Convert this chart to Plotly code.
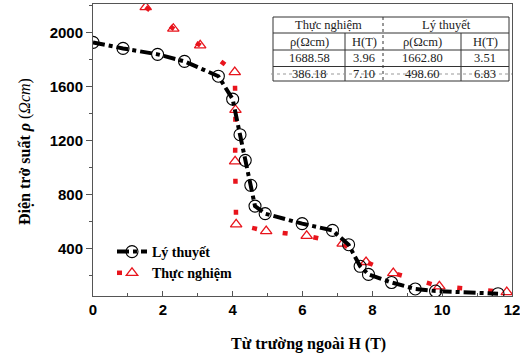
import plotly.graph_objects as go

# ---- data ----
theory_H = [0, 0.86, 1.85, 2.62, 3.59, 4.0, 4.21, 4.36, 4.52, 4.64, 4.93, 5.99, 6.86, 7.32, 7.65, 7.89, 8.55, 9.23, 9.81, 11.6]
theory_rho = [1926, 1881, 1837, 1785, 1675, 1505, 1242, 1052, 867, 713, 657, 583, 533, 427, 267, 207, 147, 99, 84, 64]

exp_H = [1.51, 2.3, 3.07, 4.06, 4.08, 4.07, 4.1, 4.96, 6.12, 7.15, 7.82, 8.6, 9.92, 11.85]
exp_rho = [2187, 2027, 1904, 1706, 1425, 1044, 578, 528, 493, 435, 299, 217, 119, 76]

x_ticks = [0, 2, 4, 6, 8, 10, 12]
y_ticks = [400, 800, 1200, 1600, 2000]

table_groups = ["Thực nghiệm", "Lý thuyết"]
table_cols = ["ρ(Ωcm)", "H(T)", "ρ(Ωcm)", "H(T)"]
table_row1 = ["1688.58", "3.96", "1662.80", "3.51"]
table_row2 = ["386.18", "7.10", "498.60", "6.83"]

# ---- figure ----
W, H = 520, 358
ML, MR, MT, MB = 93, 8, 4, 62
PW, PH = W - ML - MR, H - MT - MB


def px(xp):
    return (xp - ML) / PW


def py(yp):
    return (H - MB - yp) / PH


fig = go.Figure()

fig.add_trace(go.Scatter(
    x=exp_H, y=exp_rho, name="Thực nghiệm", mode="lines+markers",
    line=dict(color="#e8141c", width=4.5, dash="5px,26px"),
    marker=dict(symbol="triangle-up-open", size=10, color="#e8141c", line=dict(width=1.3, color="#e8141c")),
    legendrank=2,
))
fig.add_trace(go.Scatter(
    x=theory_H, y=theory_rho, name="Lý thuyết", mode="lines+markers",
    line=dict(color="black", width=4, dash="dashdot"),
    marker=dict(symbol="circle-open", size=12, color="black", line=dict(width=1.1, color="black")),
    legendrank=1,
))

serif = "Liberation Serif, Times New Roman, serif"
sans = "Liberation Sans, Arial, sans-serif"

shapes = []
annotations = []

# table geometry (pixels)
tx = [273, 345, 383, 461, 509]
ty = [17, 33, 50, 66.5, 81]
lc = "#333"
shapes.append(dict(type="rect", xref="paper", yref="paper", x0=px(tx[0]), x1=px(tx[4]), y0=py(ty[0]), y1=py(ty[4]),
                   line=dict(color=lc, width=1), fillcolor="white", layer="above"))
for yy in ty[1:4]:
    shapes.append(dict(type="line", xref="paper", yref="paper", x0=px(tx[0]), x1=px(tx[4]), y0=py(yy), y1=py(yy),
                       line=dict(color=lc, width=1), layer="above"))
for xx in (tx[1], tx[3]):
    shapes.append(dict(type="line", xref="paper", yref="paper", x0=px(xx), x1=px(xx), y0=py(ty[1]), y1=py(ty[4]),
                       line=dict(color=lc, width=1), layer="above"))
shapes.append(dict(type="line", xref="paper", yref="paper", x0=px(tx[2]), x1=px(tx[2]), y0=py(ty[0]), y1=py(ty[4]),
                   line=dict(color=lc, width=1, dash="dot"), layer="above"))
shapes.append(dict(type="line", xref="paper", yref="paper", x0=px(tx[0] - 2), x1=px(tx[4] + 3), y0=py(74), y1=py(74),
                   line=dict(color="#999", width=1, dash="dot"), layer="above"))

tfont = dict(family=serif, size=12.5, color="#222")
for i, g in enumerate(table_groups):
    annotations.append(dict(xref="paper", yref="paper", x=px((tx[2 * i] + tx[2 * i + 2]) / 2), y=py((ty[0] + ty[1]) / 2),
                            text=g, showarrow=False, font=tfont, xanchor="center", yanchor="middle"))
for j in range(4):
    cx = px((tx[j] + tx[j + 1]) / 2)
    for r, row in enumerate([table_cols, table_row1, table_row2]):
        annotations.append(dict(xref="paper", yref="paper", x=cx, y=py((ty[r + 1] + ty[r + 2]) / 2),
                                text=row[j], showarrow=False, font=tfont, xanchor="center", yanchor="middle"))

annotations.append(dict(xref="paper", yref="paper", x=px(25), y=py(152), textangle=-90,
                        text="<b>Điện trở suất <i>ρ</i></b> (<i>Ωcm</i>)", showarrow=False,
                        font=dict(family=serif, size=16, color="black"), xanchor="center", yanchor="middle"))
annotations.append(dict(xref="paper", yref="paper", x=px(308), y=py(344),
                        text="<b>Từ trường ngoài H (T)</b>", showarrow=False,
                        font=dict(family=serif, size=16, color="black"), xanchor="center", yanchor="middle"))

fig.update_layout(
    width=W, height=H,
    margin=dict(l=ML, r=MR, t=MT, b=MB),
    paper_bgcolor="white", plot_bgcolor="white",
    showlegend=True,
    legend=dict(x=px(112), y=py(236), xanchor="left", yanchor="top", bgcolor="rgba(0,0,0,0)",
                font=dict(family=serif, size=14, color="black", weight="bold"),
                itemwidth=30, tracegroupgap=0),
    shapes=shapes,
    annotations=annotations,
)
fig.update_xaxes(range=[0, 12], tickvals=x_ticks, ticktext=[str(v) for v in x_ticks],
                 showline=True, linecolor="#555", linewidth=1, mirror=True,
                 ticks="inside", ticklen=5, tickcolor="#555",
                 minor=dict(dtick=1, tick0=0, ticks="inside", ticklen=3, tickcolor="#555"),
                 tickfont=dict(family=sans, size=15, color="black", weight="bold"),
                 ticklabeloverflow="allow",
                 showgrid=False, zeroline=False, automargin=False)
fig.update_yaxes(range=[47, 2210], tickvals=y_ticks, ticktext=[str(v) for v in y_ticks],
                 showline=True, linecolor="#555", linewidth=1, mirror=True,
                 ticks="outside", ticklen=6, tickcolor="#555",
                 minor=dict(dtick=200, tick0=0, ticks="outside", ticklen=3, tickcolor="#555"),
                 tickfont=dict(family=sans, size=15, color="black", weight="bold"),
                 showgrid=False, zeroline=False, automargin=False)

fig.write_html("out.html", config={"displayModeBar": False},
               post_script="document.body.style.margin='0';document.body.style.overflow='hidden';")
